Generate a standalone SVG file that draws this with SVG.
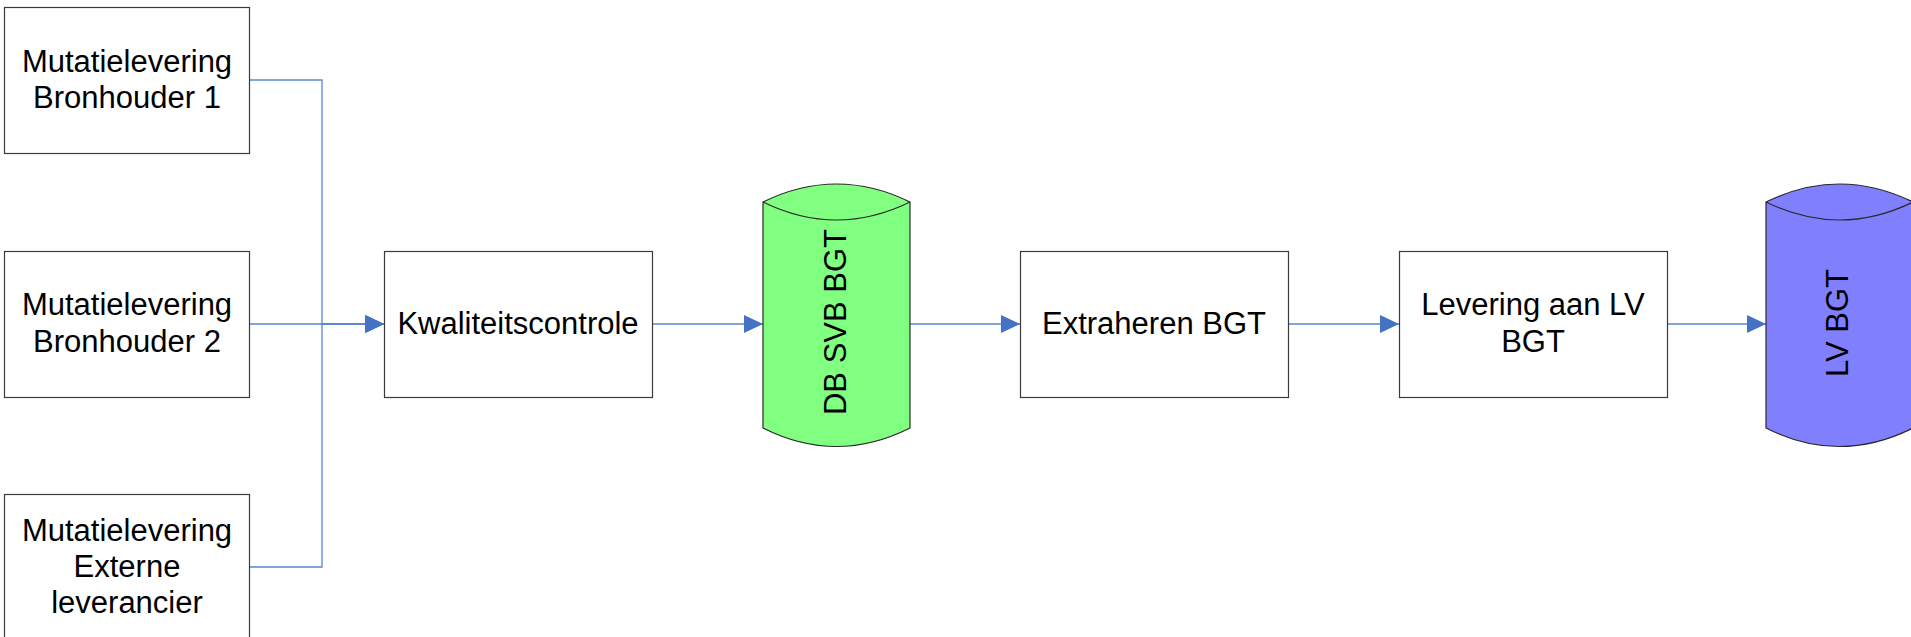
<svg xmlns="http://www.w3.org/2000/svg" width="1911" height="637" viewBox="0 0 1911 637">
<style>
.box{fill:#ffffff;stroke:#3a3a3a;stroke-width:1.2}
.t{font-family:"Liberation Sans",Arial,sans-serif;font-size:31px;fill:#000;text-anchor:middle}
.c{fill:none;stroke:#5a86cc;stroke-width:1.3}
.cyl{stroke:#2a2a2a;stroke-width:1.2}
</style>
<defs>
<marker id="arr" viewBox="0 0 19 18" refX="19" refY="9" markerWidth="19" markerHeight="18" markerUnits="userSpaceOnUse" orient="auto">
<path d="M0,0 L19,9 L0,18 Z" fill="#4472c4"/>
</marker>
</defs>
<rect width="1911" height="637" fill="#ffffff"/>
<g id="connectors">
<path class="c" d="M249,80 H322 V324 H384" marker-end="url(#arr)"/>
<path class="c" d="M249,324 H384" marker-end="url(#arr)"/>
<path class="c" d="M249,567 H322 V324 H384" marker-end="url(#arr)"/>
<path class="c" d="M652,324 H763" marker-end="url(#arr)"/>
<path class="c" d="M910,324 H1020" marker-end="url(#arr)"/>
<path class="c" d="M1289,324 H1399" marker-end="url(#arr)"/>
<path class="c" d="M1668,324 H1766" marker-end="url(#arr)"/>
</g>
<g id="bron1">
<rect class="box" x="4.5" y="7.5" width="245" height="146"/>
<text class="t" x="127" y="72">Mutatielevering</text>
<text class="t" x="127" y="108">Bronhouder 1</text>
</g>
<g id="bron2">
<rect class="box" x="4.5" y="251.5" width="245" height="146"/>
<text class="t" x="127" y="315">Mutatielevering</text>
<text class="t" x="127" y="352">Bronhouder 2</text>
</g>
<g id="extern">
<rect class="box" x="4.5" y="494.5" width="245" height="146"/>
<text class="t" x="127" y="541">Mutatielevering</text>
<text class="t" x="127" y="577">Externe</text>
<text class="t" x="127" y="613">leverancier</text>
</g>
<g id="kwaliteit">
<rect class="box" x="384.5" y="251.5" width="268" height="146"/>
<text class="t" x="518" y="334">Kwaliteitscontrole</text>
</g>
<g id="dbsvb">
<path class="cyl" fill="#80ff80" d="M763,202 Q836.5,166 910,202 V428 Q836.5,465 763,428 Z"/>
<path class="cyl" fill="none" d="M763,202 Q836.5,238 910,202"/>
<text class="t" transform="translate(846,322) rotate(-90)" x="0" y="0">DB SVB BGT</text>
</g>
<g id="extraheren">
<rect class="box" x="1020.5" y="251.5" width="268" height="146"/>
<text class="t" x="1154" y="334">Extraheren BGT</text>
</g>
<g id="levering">
<rect class="box" x="1399.5" y="251.5" width="268" height="146"/>
<text class="t" x="1533" y="315">Levering aan LV</text>
<text class="t" x="1533" y="352">BGT</text>
</g>
<g id="lvbgt">
<path class="cyl" fill="#8080ff" d="M1766,202 Q1839.5,166 1913,202 V428 Q1839.5,465 1766,428 Z"/>
<path class="cyl" fill="none" d="M1766,202 Q1839.5,238 1913,202"/>
<text class="t" transform="translate(1848,323) rotate(-90)" x="0" y="0">LV BGT</text>
</g>
</svg>
